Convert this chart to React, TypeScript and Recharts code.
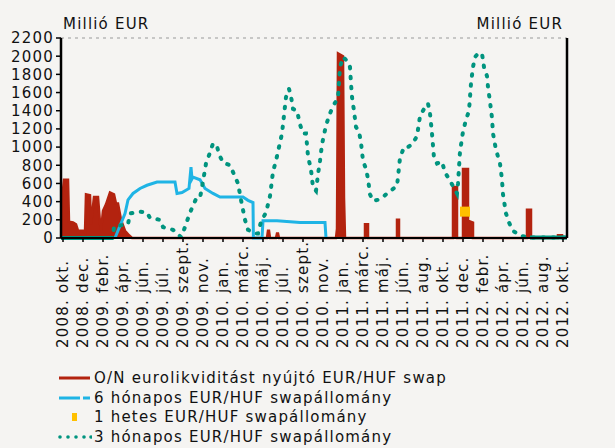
import { ComposedChart, Area, Line, Scatter, XAxis, YAxis, CartesianGrid } from 'recharts';

// x positions are read in "label slots" (0 = 2008. okt., 25 = 2012. okt.)
const xLabels = [
  '2008. okt.', '2008. dec.', '2009. febr.', '2009. ápr.', '2009. jún.', '2009. júl.',
  '2009. szept.', '2009. nov.', '2010. jan.', '2010. márc.', '2010. máj.', '2010. júl.',
  '2010. szept.', '2010. nov.', '2011. jan.', '2011. márc.', '2011. máj.', '2011. jún.',
  '2011. aug.', '2011. okt.', '2011. dec.', '2012. febr.', '2012. ápr.', '2012. jún.',
  '2012. aug.', '2012. okt.',
];
const yTicks = [0, 200, 400, 600, 800, 1000, 1200, 1400, 1600, 1800, 2000, 2200];

// O/N eurolikviditást nyújtó EUR/HUF swap (millió EUR)
const onSwap: [number, number][] = [
  [-0.1, 0], [-0.05, 420], [0.05, 640], [0.25, 640], [0.3, 180], [0.5, 170], [0.65, 150],
  [0.75, 80], [1.0, 80], [1.1, 60], [1.15, 480], [1.35, 470], [1.4, 150], [1.55, 450],
  [1.75, 450], [1.85, 170], [1.9, 80], [2.0, 300], [2.15, 370], [2.35, 500], [2.55, 480],
  [2.65, 380], [2.75, 380], [2.9, 200], [3.1, 80], [3.3, 30], [3.45, 0],
  [10.2, 0], [10.25, 80], [10.3, 80], [10.35, 0], [10.65, 0], [10.7, 50], [10.75, 50], [10.8, 0],
  [13.65, 0], [13.7, 100], [13.75, 2030], [14.0, 2000], [14.05, 440], [14.1, 0],
  [15.1, 0], [15.1, 150], [15.25, 150], [15.25, 0],
  [16.7, 0], [16.7, 200], [16.8, 200], [16.8, 0],
  [19.5, 0], [19.5, 560], [19.7, 560], [19.7, 0],
  [20.0, 0], [20.0, 760], [20.25, 760], [20.25, 190], [20.5, 170], [20.5, 0],
  [23.2, 0], [23.2, 310], [23.4, 310], [23.4, 0],
  [24.75, 0], [24.75, 30], [24.95, 30], [24.95, 0], [25.2, 0],
];

// 6 hónapos EUR/HUF swapállomány
const sixMonth: [number, number][] = [
  [2.6, 0], [3.1, 270], [3.25, 420], [3.5, 490], [3.85, 545], [4.2, 580], [4.7, 615],
  [5.6, 615], [5.7, 490], [5.95, 500], [6.3, 545], [6.4, 780], [6.45, 650], [6.5, 670],
  [6.85, 640], [7.1, 545], [7.5, 490], [7.85, 450], [9.0, 450], [9.25, 414], [9.5, 390],
  [9.52, 0], [9.95, 0], [10.0, 190], [10.7, 190], [11.85, 170], [13.1, 170], [13.15, 0],
];

// 1 hetes EUR/HUF swapállomány
const oneWeek: [number, number][] = [[20.1, 290]];

// 3 hónapos EUR/HUF swapállomány
const threeMonth: [number, number][] = [
  [-0.1, 0], [2.5, 0], [2.55, 130], [3.25, 150], [3.35, 270], [3.85, 290], [4.2, 280],
  [4.35, 220], [4.85, 200], [5.0, 120], [5.5, 90], [5.7, 50], [5.9, 10], [6.05, 90],
  [6.35, 280], [6.65, 430], [6.85, 440], [7.0, 620], [7.15, 820], [7.35, 940], [7.5, 1040],
  [7.7, 1010], [7.8, 920], [8.0, 830], [8.35, 800], [8.55, 700], [8.75, 600], [8.9, 420],
  [9.1, 200], [9.25, 90], [9.6, 50], [9.75, 50], [9.9, 180], [10.15, 280], [10.35, 460],
  [10.5, 730], [10.65, 850], [10.8, 1000], [10.95, 1150], [11.05, 1350], [11.15, 1550],
  [11.3, 1640], [11.4, 1560], [11.5, 1420], [11.7, 1400], [11.85, 1250], [12.0, 1150],
  [12.15, 1150], [12.25, 900], [12.4, 750], [12.5, 560], [12.65, 520], [12.75, 700],
  [12.85, 850], [12.95, 1030], [13.15, 1240], [13.35, 1370], [13.5, 1450], [13.75, 1540],
  [13.85, 1880], [14.0, 1990], [14.2, 1950], [14.35, 1880], [14.4, 1700], [14.45, 1550],
  [14.55, 1400], [14.65, 1220], [14.8, 1170], [14.9, 1050], [15.0, 850], [15.15, 760],
  [15.25, 650], [15.35, 480], [15.5, 410], [15.75, 420], [16.0, 450], [16.25, 500],
  [16.5, 540], [16.7, 570], [16.85, 880], [17.05, 1000], [17.25, 1000], [17.45, 1030],
  [17.7, 1120], [17.85, 1340], [18.1, 1440], [18.25, 1480], [18.35, 1370], [18.45, 1150],
  [18.55, 880], [18.7, 820], [18.95, 840], [19.1, 720], [19.3, 650], [19.5, 570],
  [19.7, 490], [19.75, 600], [19.85, 950], [20.0, 1170], [20.15, 1300], [20.3, 1400],
  [20.4, 1700], [20.5, 1880], [20.6, 1990], [20.75, 2030], [20.95, 2030], [21.05, 1880],
  [21.2, 1780], [21.25, 1660], [21.35, 1500], [21.45, 1320], [21.5, 1150], [21.65, 970],
  [21.85, 820], [21.95, 640], [22.0, 480], [22.15, 270], [22.3, 170], [22.5, 80],
  [22.85, 25], [23.35, 5], [25.2, 5],
];

const RED = '#b3230f';
const BLUE = '#1fb4e5';
const ORANGE = '#ffc000';
const TEAL = '#00947f';
const FONT = '"DejaVu Sans", Verdana, sans-serif';

const toRows = (pts: [number, number][]) => pts.map(([x, v]) => ({ x, v }));

// the flat stretches at 0 look solid in the original
const threeFlatLeft = toRows(threeMonth.slice(0, 2));
const threeFlatRight = toRows(threeMonth.slice(-2));

const XTick = ({ x, payload }: any) => (
  <text
    transform={`translate(${x},348) rotate(-90)`}
    textAnchor="start"
    dy="0.36em"
    fontSize={15}
    fill="#111"
  >
    {xLabels[payload.value]}
  </text>
);

const legendRows = [
  { y: 378, label: 'O/N eurolikviditást nyújtó EUR/HUF swap', kind: 'line' },
  { y: 398, label: '6 hónapos EUR/HUF swapállomány', kind: 'dash' },
  { y: 417, label: '1 hetes EUR/HUF swapállomány', kind: 'square' },
  { y: 437, label: '3 hónapos EUR/HUF swapállomány', kind: 'dots' },
];

function Swatch({ kind }: { kind: string }) {
  return (
    <svg width={36} height={20} style={{ position: 'absolute', left: 56, top: 0 }}>
      {kind === 'line' && <line x1={3} x2={34} y1={10} y2={10} stroke={RED} strokeWidth={3} />}
      {kind === 'dash' && (
        <g stroke={BLUE} strokeWidth={3}>
          <line x1={3} x2={24} y1={10} y2={10} />
          <line x1={27} x2={34} y1={10} y2={10} />
        </g>
      )}
      {kind === 'square' && <rect x={16} y={6} width={5} height={8} fill={ORANGE} />}
      {kind === 'dots' &&
        [4, 12, 20, 28, 35].map((cx) => <circle key={cx} cx={cx} cy={10} r={1.8} fill={TEAL} />)}
    </svg>
  );
}

export default function App() {
  return (
    <div
      style={{
        position: 'absolute',
        left: 0,
        top: 0,
        width: 615,
        height: 448,
        background: '#f5f4f2',
        fontFamily: FONT,
        letterSpacing: '1.2px',
        color: '#111',
        overflow: 'hidden',
      }}
    >
      <div style={{ position: 'absolute', left: 63, top: 16, fontSize: 15, lineHeight: '16px' }}>
        Millió EUR
      </div>
      <div style={{ position: 'absolute', right: 52, top: 16, fontSize: 15, lineHeight: '16px' }}>
        Millió EUR
      </div>

      <ComposedChart width={615} height={448} margin={{ top: 38, right: 0, bottom: 110, left: 0 }}>
        <CartesianGrid vertical={false} stroke="#9a9a9a" strokeDasharray="3 4" strokeWidth={1.2} />
        <XAxis
          dataKey="x"
          type="number"
          domain={[-0.1, 25.2]}
          ticks={xLabels.map((_, i) => i)}
          interval={0}
          height={100}
          tick={<XTick />}
          tickSize={4}
          axisLine={{ stroke: '#000', strokeWidth: 2 }}
          tickLine={{ stroke: '#000', strokeWidth: 1.5 }}
          allowDataOverflow
        />
        <YAxis
          yAxisId="l"
          dataKey="v"
          domain={[0, 2200]}
          ticks={yTicks}
          interval={0}
          width={61}
          tickSize={5}
          axisLine={{ stroke: '#000', strokeWidth: 2.5 }}
          tickLine={{ stroke: '#000', strokeWidth: 1.5 }}
          tick={{ fontSize: 15, fill: '#111' }}
        />
        <YAxis
          yAxisId="r"
          orientation="right"
          domain={[0, 2200]}
          ticks={yTicks}
          interval={0}
          width={48}
          tickSize={5}
          axisLine={{ stroke: '#000', strokeWidth: 2.5 }}
          tickLine={{ stroke: '#000', strokeWidth: 1.5 }}
          tick={{ fontSize: 15, fill: '#111', textAnchor: 'start' }}
        />
        <Area
          yAxisId="l"
          data={toRows(onSwap)}
          dataKey="v"
          type="linear"
          stroke={RED}
          strokeWidth={2.5}
          fill={RED}
          fillOpacity={1}
          isAnimationActive={false}
          dot={false}
          activeDot={false}
        />
        <Line
          yAxisId="l"
          data={toRows(sixMonth)}
          dataKey="v"
          type="linear"
          stroke={BLUE}
          strokeWidth={3}
          dot={false}
          activeDot={false}
          isAnimationActive={false}
        />
        <Scatter
          yAxisId="l"
          data={toRows(oneWeek)}
          dataKey="v"
          fill={ORANGE}
          isAnimationActive={false}
          shape={(p: any) => <rect x={p.cx - 5} y={p.cy - 5} width={10} height={10} fill={ORANGE} />}
        />
        <Line
          yAxisId="l"
          data={toRows(threeMonth)}
          dataKey="v"
          type="linear"
          stroke={TEAL}
          strokeWidth={4}
          strokeDasharray="1.5 8.5"
          strokeLinecap="round"
          dot={false}
          activeDot={false}
          isAnimationActive={false}
        />
        <Line
          yAxisId="l"
          data={threeFlatLeft}
          dataKey="v"
          stroke={TEAL}
          strokeWidth={4}
          dot={false}
          activeDot={false}
          isAnimationActive={false}
        />
        <Line
          yAxisId="l"
          data={threeFlatRight}
          dataKey="v"
          stroke={TEAL}
          strokeWidth={4}
          dot={false}
          activeDot={false}
          isAnimationActive={false}
        />
      </ComposedChart>

      {legendRows.map((r) => (
        <div key={r.label} style={{ position: 'absolute', left: 0, top: r.y - 10, height: 20, width: 615 }}>
          <Swatch kind={r.kind} />
          <div style={{ position: 'absolute', left: 94, top: 0, fontSize: 15, lineHeight: '20px', whiteSpace: 'nowrap' }}>
            {r.label}
          </div>
        </div>
      ))}
    </div>
  );
}
